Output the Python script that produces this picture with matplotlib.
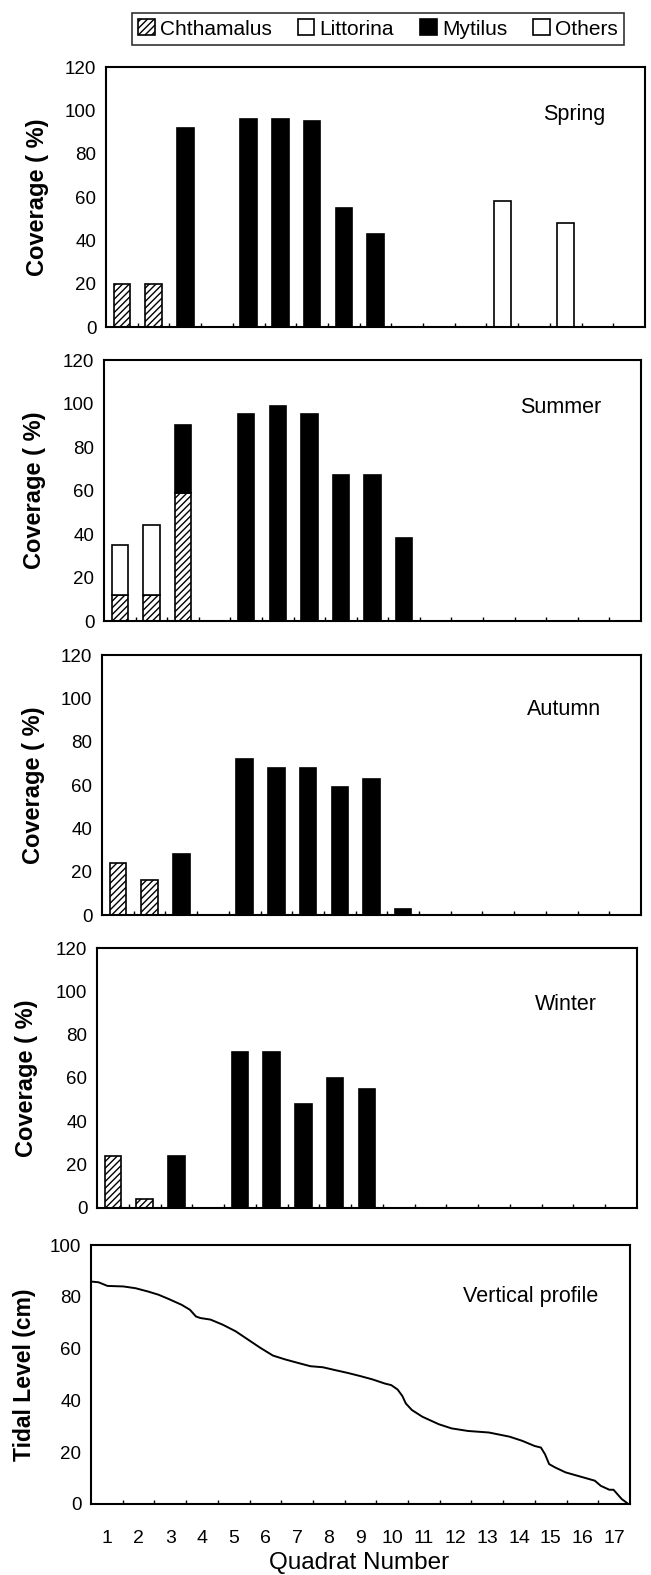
import matplotlib.pyplot as plt
from matplotlib.patches import Patch

plt.rcParams['font.family'] = ['Liberation Sans', 'DejaVu Sans']
plt.rcParams['hatch.linewidth'] = 1.0

quadrats = list(range(1, 18))

# coverage (%) per quadrat 1..17
spring_chthamalus = [20, 20, 0, 0, 0, 0, 0, 0, 0, 0, 0, 0, 0, 0, 0, 0, 0]
spring_littorina = [0, 0, 0, 0, 0, 0, 0, 0, 0, 0, 0, 0, 0, 0, 0, 0, 0]
spring_mytilus = [0, 0, 92, 0, 96, 96, 95, 55, 43, 0, 0, 0, 0, 0, 0, 0, 0]
spring_others = [0, 0, 0, 0, 0, 0, 0, 0, 0, 0, 0, 0, 58, 0, 48, 0, 0]

summer_chthamalus = [12, 12, 59, 0, 0, 0, 0, 0, 0, 0, 0, 0, 0, 0, 0, 0, 0]
summer_littorina = [23, 32, 0, 0, 0, 0, 0, 0, 0, 0, 0, 0, 0, 0, 0, 0, 0]
summer_mytilus = [0, 0, 31, 0, 95, 99, 95, 67, 67, 38, 0, 0, 0, 0, 0, 0, 0]
summer_others = [0] * 17

autumn_chthamalus = [24, 16, 0, 0, 0, 0, 0, 0, 0, 0, 0, 0, 0, 0, 0, 0, 0]
autumn_littorina = [0] * 17
autumn_mytilus = [0, 0, 28, 0, 72, 68, 68, 59, 63, 3, 0, 0, 0, 0, 0, 0, 0]
autumn_others = [0] * 17

winter_chthamalus = [24, 4, 0, 0, 0, 0, 0, 0, 0, 0, 0, 0, 0, 0, 0, 0, 0]
winter_littorina = [0] * 17
winter_mytilus = [0, 0, 24, 0, 72, 72, 48, 60, 55, 0, 0, 0, 0, 0, 0, 0, 0]
winter_others = [0] * 17

# tidal level profile (cm) along the transect, x in quadrat units
profile_x = [0.5, 0.74, 1.02, 1.52, 1.91, 2.31, 2.63, 2.96, 3.36, 3.62, 3.81, 3.95,
             4.27, 4.66, 5.06, 5.45, 5.84, 6.24, 6.63, 7.02, 7.42, 7.81, 8.2, 8.6,
             8.99, 9.38, 9.77, 9.97, 10.17, 10.32, 10.43, 10.62, 10.95, 11.47, 11.87,
             12.39, 13.05, 13.7, 14.1, 14.49, 14.69, 14.82, 14.95, 15.14, 15.47,
             15.93, 16.39, 16.58, 16.85, 16.98, 17.24, 17.45]
profile_y = [85.9, 85.6, 84.2, 84, 83.3, 82, 80.8, 79.1, 76.9, 75, 72.4, 71.8,
             71.2, 69.2, 66.7, 63.5, 60.3, 57.3, 55.8, 54.5, 53.2, 52.8, 51.7, 50.6,
             49.4, 48.1, 46.5, 45.9, 44.2, 41.7, 38.8, 36.3, 33.7, 30.8, 29.2,
             28.2, 27.6, 26, 24.4, 22.4, 21.8, 19.2, 15.4, 14.1, 12.2,
             10.6, 9, 7, 5.5, 5.5, 1.9, 0]

seasons = [
    ("Spring", spring_chthamalus, spring_littorina, spring_mytilus, spring_others),
    ("Summer", summer_chthamalus, summer_littorina, summer_mytilus, summer_others),
    ("Autumn", autumn_chthamalus, autumn_littorina, autumn_mytilus, autumn_others),
    ("Winter", winter_chthamalus, winter_littorina, winter_mytilus, winter_others),
]

W, H = 651, 1575
fig = plt.figure(figsize=(W / 100, H / 100), dpi=100)

def px_axes(l, r, top, bot):
    return fig.add_axes([l / W, 1 - bot / H, (r - l) / W, (bot - top) / H])

# pixel boxes (left, right, top, bottom) - panels are slightly offset like the scan
boxes = [(106, 645, 67, 327), (104, 641, 360, 621), (102, 641, 655, 915),
         (97, 637, 948, 1208), (91, 630, 1245, 1504)]
ylabel_pos = [(38, 197), (35, 490), (34, 785), (27, 1078), (25, 1375)]
season_y = [98, 98, 95, 94]

styles = [dict(facecolor='white', hatch='/////'),
          dict(facecolor='white'),
          dict(facecolor='black'),
          dict(facecolor='white')]

def style_axes(ax):
    for s in ax.spines.values():
        s.set_linewidth(1.5)
    ax.set_xlim(0.5, 17.5)
    ax.tick_params(axis='y', length=0, pad=7, labelsize=13.5)
    ax.set_xticks([q + 0.5 for q in quadrats[:-1]], minor=True)
    ax.tick_params(axis='x', which='minor', direction='in', length=3, width=1)

for i, (name, chth, litt, myt, oth) in enumerate(seasons):
    ax = px_axes(*boxes[i])
    bottom = [0] * 17
    for vals, st in zip([chth, litt, myt, oth], styles):
        xs = [q for q, v in zip(quadrats, vals) if v > 0]
        hs = [v for v in vals if v > 0]
        bs = [b for b, v in zip(bottom, vals) if v > 0]
        if xs:
            ax.bar(xs, hs, width=0.52, bottom=bs, edgecolor='black', linewidth=1.2, **st)
        bottom = [b + v for b, v in zip(bottom, vals)]
    style_axes(ax)
    ax.set_ylim(0, 120)
    ax.set_yticks(range(0, 121, 20))
    ax.set_xticks([])
    ax.text(16.25, season_y[i], name, ha='right', va='center', fontsize=15.5)
    fig.text(ylabel_pos[i][0] / W, 1 - ylabel_pos[i][1] / H, "Coverage ( %)",
             rotation=90, ha='center', va='center', fontsize=17, fontweight='bold')

# vertical profile
ax = px_axes(*boxes[4])
ax.plot(profile_x, profile_y, color='black', linewidth=1.4)
style_axes(ax)
ax.set_ylim(0, 100)
ax.set_yticks(range(0, 101, 20))
ax.set_xticks(quadrats)
ax.tick_params(axis='x', which='major', length=0, pad=19, labelsize=14)
ax.text(16.5, 80, "Vertical profile", ha='right', va='center', fontsize=15.5)
fig.text(ylabel_pos[4][0] / W, 1 - ylabel_pos[4][1] / H, "Tidal Level (cm)",
         rotation=90, ha='center', va='center', fontsize=16.5, fontweight='bold')
fig.text(359 / W, 1 - 1563 / H, "Quadrat Number", ha='center', va='center', fontsize=17.5)

handles = [Patch(edgecolor='black', linewidth=1.2, **st) for st in styles]
fig.legend(handles, ["Chthamalus", "Littorina", "Mytilus", "Others"],
           loc='center', bbox_to_anchor=(378 / W, 1 - 29 / H), ncol=4,
           fontsize=15, frameon=True, fancybox=False, edgecolor='black',
           handlelength=0.8, handleheight=0.8, handletextpad=0.25,
           columnspacing=1.25, borderpad=0.3)
fig.legends[0].get_frame().set_linewidth(1.2)

fig.savefig("out.png", dpi=100)
